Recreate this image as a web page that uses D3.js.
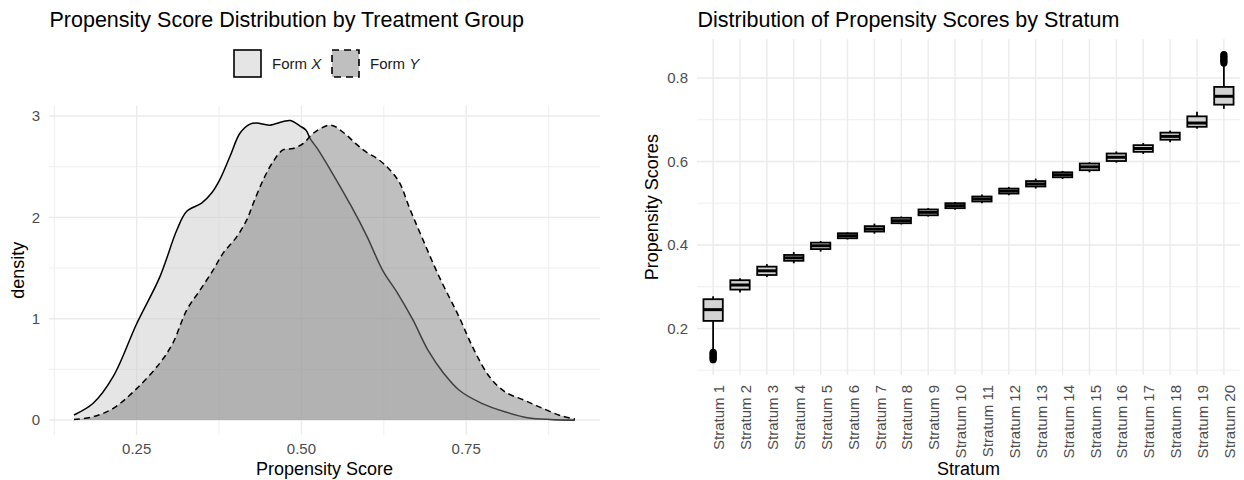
<!DOCTYPE html>
<html>
<head>
<meta charset="utf-8">
<script src="https://cdn.jsdelivr.net/npm/d3@7"></script>
<style>
  body { margin: 0; background: #fff; }
  svg text { font-family: "Liberation Sans", Arial, Helvetica, sans-serif; }
</style>
</head>
<body>
<svg id="chart" width="1244" height="480"></svg>
<script>
// ---- left panel: density curves (score, density)
var formXScore = [0.155, 0.184, 0.2145, 0.25, 0.285, 0.311, 0.326, 0.3485, 0.3637, 0.376, 0.3915, 0.4067,
  0.422, 0.432, 0.452, 0.4724, 0.4835, 0.498, 0.507, 0.513, 0.524, 0.547, 0.576, 0.5996, 0.623, 0.646,
  0.669, 0.692, 0.716, 0.739, 0.7735, 0.8085, 0.843, 0.878, 0.915];
var formXDensity = [0.05, 0.165, 0.43, 0.95, 1.41, 1.875, 2.06, 2.14, 2.24, 2.37, 2.6, 2.83,
  2.92, 2.93, 2.91, 2.945, 2.955, 2.9, 2.86, 2.78, 2.68, 2.435, 2.105, 1.81, 1.48, 1.25,
  0.99, 0.69, 0.46, 0.296, 0.165, 0.082, 0.023, 0.005, 0.0];

var formYScore = [0.155, 0.184, 0.2145, 0.25, 0.285, 0.305, 0.326, 0.346, 0.366, 0.381, 0.402, 0.417,
  0.427, 0.442, 0.457, 0.472, 0.4875, 0.503, 0.518, 0.5444, 0.565, 0.582, 0.597, 0.617, 0.634, 0.649,
  0.6635, 0.681, 0.71, 0.739, 0.762, 0.785, 0.8085, 0.8375, 0.866, 0.895, 0.915];
var formYDensity = [0.005, 0.033, 0.115, 0.31, 0.56, 0.76, 1.086, 1.28, 1.48, 1.645, 1.81, 1.975,
  2.14, 2.37, 2.55, 2.665, 2.68, 2.73, 2.83, 2.91, 2.83, 2.73, 2.65, 2.57, 2.47, 2.34,
  2.1, 1.83, 1.4, 1.02, 0.69, 0.43, 0.28, 0.197, 0.115, 0.04, 0.01];

var densityXTicks = [0.25, 0.50, 0.75];
var densityXMinor = [0.125, 0.375, 0.625, 0.875];
var densityYTicks = [0, 1, 2, 3];
var densityYMinor = [0.5, 1.5, 2.5];

// ---- right panel: boxplot summaries per stratum
var strata = d3.range(1, 21).map(function(i) { return 'Stratum ' + i; });
var whiskerLow = [0.146, 0.286, 0.323, 0.356, 0.384, 0.413, 0.427, 0.449, 0.468, 0.484,
  0.500, 0.519, 0.535, 0.558, 0.574, 0.597, 0.618, 0.646, 0.678, 0.726];
var quart1 = [0.218, 0.293, 0.328, 0.362, 0.390, 0.416, 0.432, 0.452, 0.471, 0.488,
  0.504, 0.523, 0.540, 0.562, 0.579, 0.601, 0.623, 0.652, 0.683, 0.736];
var medians = [0.245, 0.304, 0.338, 0.369, 0.398, 0.422, 0.438, 0.458, 0.478, 0.494,
  0.510, 0.529, 0.546, 0.568, 0.587, 0.610, 0.631, 0.660, 0.692, 0.756];
var quart3 = [0.270, 0.3155, 0.348, 0.376, 0.4055, 0.428, 0.445, 0.465, 0.485, 0.500,
  0.516, 0.535, 0.553, 0.574, 0.595, 0.619, 0.639, 0.669, 0.708, 0.7785];
var whiskerHigh = [0.277, 0.320, 0.354, 0.383, 0.4095, 0.430, 0.451, 0.468, 0.488, 0.503,
  0.521, 0.539, 0.559, 0.577, 0.598, 0.624, 0.644, 0.674, 0.719, 0.832];
var outliers1 = [0.125, 0.128, 0.131, 0.134, 0.137, 0.140, 0.143];
var outliers20 = [0.836, 0.840, 0.844, 0.848, 0.852, 0.856];
var scoreTicks = [0.2, 0.4, 0.6, 0.8];
var scoreMinor = [0.1, 0.3, 0.5, 0.7];

var svg = d3.select('#chart');
var gridColor = '#ebebeb';
var tickColor = '#4d4d4d';

// ================= left panel =================
var lp = { left: 49, right: 600 };
var allScores = formXScore.concat(formYScore);
var sMin = d3.min(allScores), sMax = d3.max(allScores);
var sPad = (sMax - sMin) * 0.05;
var xDens = d3.scaleLinear().domain([sMin - sPad, sMax + sPad]).range([lp.left, lp.right]);
var dMax = d3.max(formXDensity.concat(formYDensity));
var yDens = d3.scaleLinear().domain([-dMax * 0.05, dMax * 1.05]).range([435, 105.6]);

var left = svg.append('g');

left.selectAll('line.vminor').data(densityXMinor).enter().append('line')
  .attr('x1', xDens).attr('x2', xDens).attr('y1', yDens.range()[0]).attr('y2', yDens.range()[1])
  .attr('stroke', gridColor).attr('stroke-width', 0.8);
left.selectAll('line.hminor').data(densityYMinor).enter().append('line')
  .attr('y1', yDens).attr('y2', yDens).attr('x1', lp.left).attr('x2', lp.right)
  .attr('stroke', gridColor).attr('stroke-width', 0.8);
left.selectAll('line.vmajor').data(densityXTicks).enter().append('line')
  .attr('x1', xDens).attr('x2', xDens).attr('y1', yDens.range()[0]).attr('y2', yDens.range()[1])
  .attr('stroke', gridColor).attr('stroke-width', 1.4);
left.selectAll('line.hmajor').data(densityYTicks).enter().append('line')
  .attr('y1', yDens).attr('y2', yDens).attr('x1', lp.left).attr('x2', lp.right)
  .attr('stroke', gridColor).attr('stroke-width', 1.4);

function drawDensity(scores, dens, fill, dash) {
  var pts = scores.map(function(s, i) { return [s, dens[i]]; });
  var area = d3.area()
    .x(function(d) { return xDens(d[0]); })
    .y0(yDens(0))
    .y1(function(d) { return yDens(d[1]); })
    .curve(d3.curveCatmullRom);
  var line = d3.line()
    .x(function(d) { return xDens(d[0]); })
    .y(function(d) { return yDens(d[1]); })
    .curve(d3.curveCatmullRom);
  left.append('path').attr('d', area(pts))
    .attr('fill', fill).attr('fill-opacity', 0.5);
  left.append('path').attr('d', line(pts))
    .attr('fill', 'none').attr('stroke', '#000').attr('stroke-width', 1.5)
    .attr('stroke-dasharray', dash);
}
drawDensity(formXScore, formXDensity, '#cccccc', null);
drawDensity(formYScore, formYDensity, '#7f7f7f', '6,4');

// axis text
left.selectAll('text.xt').data(densityXTicks).enter().append('text')
  .attr('x', xDens).attr('y', 454).attr('text-anchor', 'middle')
  .attr('font-size', 15).attr('fill', tickColor)
  .text(d3.format('.2f'));
left.selectAll('text.yt').data(densityYTicks).enter().append('text')
  .attr('x', 40).attr('y', yDens).attr('dy', '0.36em').attr('text-anchor', 'end')
  .attr('font-size', 15).attr('fill', tickColor)
  .text(function(d) { return d; });
left.append('text').attr('x', (lp.left + lp.right) / 2).attr('y', 475)
  .attr('text-anchor', 'middle').attr('font-size', 18).text('Propensity Score');
left.append('text').attr('transform', 'translate(24,' + (yDens.range()[0] + yDens.range()[1]) / 2 + ') rotate(-90)')
  .attr('text-anchor', 'middle').attr('font-size', 18).text('density');
left.append('text').attr('x', 49.5).attr('y', 26.5).attr('font-size', 21.5)
  .text('Propensity Score Distribution by Treatment Group');

// legend
var legendItems = [
  { label: 'Form ', it: 'X', fill: '#cccccc', dash: null, x: 234 },
  { label: 'Form ', it: 'Y', fill: '#7f7f7f', dash: '7,5', x: 332 }
];
var lg = left.selectAll('g.legend').data(legendItems).enter().append('g')
  .attr('transform', function(d) { return 'translate(' + d.x + ',50)'; });
lg.append('rect').attr('width', 27).attr('height', 27)
  .attr('fill', function(d) { return d.fill; }).attr('fill-opacity', 0.5)
  .attr('stroke', '#000').attr('stroke-width', 1.6)
  .attr('stroke-dasharray', function(d) { return d.dash; });
var lt = lg.append('text').attr('x', 38).attr('y', 18.5).attr('font-size', 15).attr('fill', '#1a1a1a');
lt.append('tspan').text(function(d) { return d.label; });
lt.append('tspan').attr('font-style', 'italic').text(function(d) { return d.it; });

// ================= right panel =================
var rp = { left: 697, right: 1240, top: 39.3, bottom: 375 };
var allVals = whiskerLow.concat(whiskerHigh, outliers1, outliers20);
var vMin = d3.min(allVals), vMax = d3.max(allVals);
var vPad = (vMax - vMin) * 0.05;
var yBox = d3.scaleLinear().domain([vMin - vPad, vMax + vPad]).range([rp.bottom, rp.top]);
var xBox = d3.scalePoint().domain(strata).range([rp.left, rp.right]).padding(0.6);
var boxW = xBox.step() * 0.72;

var right = svg.append('g');
right.selectAll('line.hminor').data(scoreMinor).enter().append('line')
  .attr('y1', yBox).attr('y2', yBox).attr('x1', rp.left).attr('x2', rp.right)
  .attr('stroke', gridColor).attr('stroke-width', 0.8);
right.selectAll('line.hmajor').data(scoreTicks).enter().append('line')
  .attr('y1', yBox).attr('y2', yBox).attr('x1', rp.left).attr('x2', rp.right)
  .attr('stroke', gridColor).attr('stroke-width', 1.4);
right.selectAll('line.vmajor').data(strata).enter().append('line')
  .attr('x1', xBox).attr('x2', xBox).attr('y1', rp.top).attr('y2', rp.bottom)
  .attr('stroke', gridColor).attr('stroke-width', 1.4);

var boxes = strata.map(function(s, i) {
  return { name: s, lo: whiskerLow[i], q1: quart1[i], med: medians[i], q3: quart3[i], hi: whiskerHigh[i] };
});
var bg = right.selectAll('g.box').data(boxes).enter().append('g')
  .attr('transform', function(d) { return 'translate(' + xBox(d.name) + ',0)'; });
bg.append('line').attr('y1', function(d) { return yBox(d.hi); }).attr('y2', function(d) { return yBox(d.q3); })
  .attr('stroke', '#000').attr('stroke-width', 1.8);
bg.append('line').attr('y1', function(d) { return yBox(d.q1); }).attr('y2', function(d) { return yBox(d.lo); })
  .attr('stroke', '#000').attr('stroke-width', 1.8);
bg.append('rect').attr('x', -boxW / 2).attr('width', boxW)
  .attr('y', function(d) { return yBox(d.q3); })
  .attr('height', function(d) { return yBox(d.q1) - yBox(d.q3); })
  .attr('fill', '#d3d3d3').attr('stroke', '#000').attr('stroke-width', 1.8);
bg.append('line').attr('x1', -boxW / 2).attr('x2', boxW / 2)
  .attr('y1', function(d) { return yBox(d.med); }).attr('y2', function(d) { return yBox(d.med); })
  .attr('stroke', '#000').attr('stroke-width', 3);

right.selectAll('circle.o1').data(outliers1).enter().append('circle')
  .attr('cx', xBox(strata[0])).attr('cy', yBox).attr('r', 3.6).attr('fill', '#000');
right.selectAll('circle.o20').data(outliers20).enter().append('circle')
  .attr('cx', xBox(strata[19])).attr('cy', yBox).attr('r', 3.6).attr('fill', '#000');

// axis text
right.selectAll('text.yt').data(scoreTicks).enter().append('text')
  .attr('x', 688).attr('y', yBox).attr('dy', '0.36em').attr('text-anchor', 'end')
  .attr('font-size', 15).attr('fill', tickColor)
  .text(d3.format('.1f'));
right.selectAll('text.xt').data(strata).enter().append('text')
  .attr('transform', function(d) { return 'translate(' + xBox(d) + ',385) rotate(-90)'; })
  .attr('dy', '0.74em').attr('text-anchor', 'end')
  .attr('font-size', 15).attr('fill', tickColor)
  .text(function(d) { return d; });
right.append('text').attr('x', (rp.left + rp.right) / 2).attr('y', 475)
  .attr('text-anchor', 'middle').attr('font-size', 18).text('Stratum');
right.append('text').attr('transform', 'translate(658,' + (rp.top + rp.bottom) / 2 + ') rotate(-90)')
  .attr('text-anchor', 'middle').attr('font-size', 18).text('Propensity Scores');
right.append('text').attr('x', 697.5).attr('y', 26.5).attr('font-size', 21.5)
  .text('Distribution of Propensity Scores by Stratum');
</script>
</body>
</html>
